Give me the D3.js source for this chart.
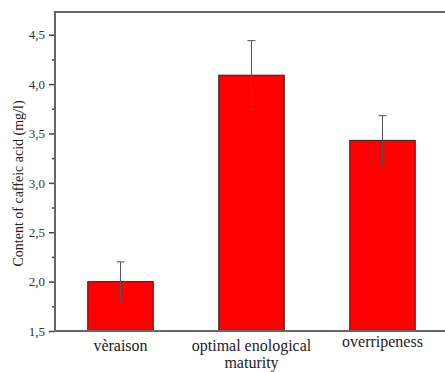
<!DOCTYPE html>
<html lang="en">
  <head>
    <meta charset="UTF-8" />
    <script src="https://cdn.jsdelivr.net/npm/d3@7"></script>
    <style>
      body { margin: 0; background: #fff; }
    </style>
  </head>
  <body>
    <div id="fig"></div>
    <script>
      const categories = ["vèraison", "optimal enological\nmaturity", "overripeness"];
      const values = [2.0, 4.09, 3.43];
      const errors = [0.2, 0.35, 0.25];
      const yTicks = [1.5, 2.0, 2.5, 3.0, 3.5, 4.0, 4.5];

      const width = 445, height = 372;
      const margins = { top: 12, bottom: 41, left: 55, right: 0 };
      const serif = "'Liberation Serif', 'Times New Roman', Times, serif";

      const svg = d3.select("#fig").append("svg")
        .attr("width", width).attr("height", height)
        .style("font-family", serif);

      const x = d3.scaleBand()
        .domain(categories)
        .range([margins.left, margins.left + 393])
        .paddingInner(0.5)
        .paddingOuter(0.25);

      const y = d3.scaleLinear()
        .domain([1.5, 4.73])
        .range([height - margins.bottom, margins.top]);

      // bars
      svg.append("g").selectAll("rect")
        .data(values)
        .join("rect")
        .attr("x", (d, i) => x(categories[i]))
        .attr("width", x.bandwidth())
        .attr("y", d => y(d))
        .attr("height", d => y(1.5) - y(d))
        .attr("fill", "#ff0000")
        .attr("stroke", "#3a1a1a")
        .attr("stroke-width", 1);

      // error bars
      const eg = svg.append("g").attr("stroke", "#555").attr("stroke-width", 1);
      values.forEach((v, i) => {
        const cx = x(categories[i]) + x.bandwidth() / 2;
        eg.append("line").attr("x1", cx).attr("x2", cx)
          .attr("y1", y(v + errors[i])).attr("y2", y(v - errors[i]));
        eg.append("line").attr("x1", cx - 4).attr("x2", cx + 4)
          .attr("y1", y(v + errors[i])).attr("y2", y(v + errors[i]));
        eg.append("line").attr("x1", cx - 3).attr("x2", cx + 3)
          .attr("y1", y(v - errors[i])).attr("y2", y(v - errors[i]));
      });

      // frame lines
      svg.append("line")
        .attr("x1", margins.left).attr("x2", width)
        .attr("y1", margins.top).attr("y2", margins.top)
        .attr("stroke", "#666").attr("stroke-width", 2);
      svg.append("line")
        .attr("x1", margins.left).attr("x2", width)
        .attr("y1", y(1.5)).attr("y2", y(1.5))
        .attr("stroke", "#666").attr("stroke-width", 2);

      // y axis with minor ticks
      const minor = d3.range(1.75, 4.73, 0.5);
      svg.append("g")
        .attr("transform", `translate(${margins.left},0)`)
        .call(d3.axisLeft(y).tickValues(minor).tickSize(3).tickFormat(""))
        .call(g => g.select(".domain").remove())
        .call(g => g.selectAll("line").attr("stroke", "#444").attr("stroke-width", 1.5));

      const yAxis = svg.append("g")
        .attr("transform", `translate(${margins.left},0)`)
        .call(d3.axisLeft(y).tickValues(yTicks).tickSize(6).tickPadding(4)
          .tickFormat(d => d3.format(".1f")(d).replace(".", ",")));
      yAxis.attr("font-family", serif);
      yAxis.select(".domain").remove();
      yAxis.selectAll("line").attr("stroke", "#444").attr("stroke-width", 1.5);
      yAxis.selectAll("text").style("font-size", "13px").attr("fill", "#333");

      svg.append("line")
        .attr("x1", margins.left).attr("x2", margins.left)
        .attr("y1", margins.top - 1).attr("y2", y(1.5) + 1)
        .attr("stroke", "#666").attr("stroke-width", 2);

      // category labels
      categories.forEach((c, i) => {
        const cx = x(c) + x.bandwidth() / 2;
        const lines = c.split("\n");
        const t = svg.append("text")
          .attr("x", cx)
          .attr("y", i === 2 ? 347 : 351)
          .attr("text-anchor", "middle")
          .attr("fill", "#222")
          .style("font-size", "16px");
        lines.forEach((l, j) => {
          t.append("tspan").attr("x", cx).attr("dy", j === 0 ? 0 : 17).text(l);
        });
      });

      // y title
      svg.append("text")
        .attr("transform", `translate(23,${(margins.top + y(1.5)) / 2 + 12}) rotate(-90)`)
        .attr("text-anchor", "middle")
        .attr("fill", "#222")
        .style("font-size", "14px")
        .text("Content of caffeic acid (mg/l)");
    </script>
  </body>
</html>
